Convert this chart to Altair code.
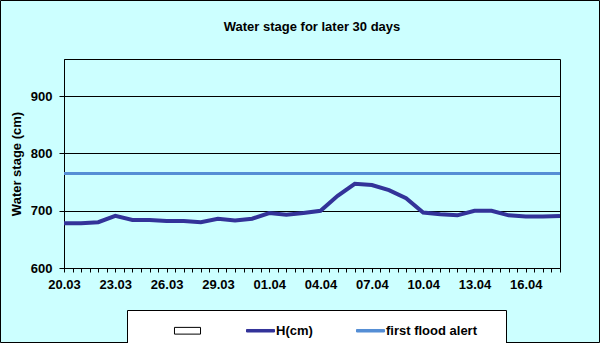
import altair as alt
import pandas as pd

# ---- data ----
dates = [
    "2024-03-20", "2024-03-21", "2024-03-22", "2024-03-23", "2024-03-24",
    "2024-03-25", "2024-03-26", "2024-03-27", "2024-03-28", "2024-03-29",
    "2024-03-30", "2024-03-31", "2024-04-01", "2024-04-02", "2024-04-03",
    "2024-04-04", "2024-04-05", "2024-04-06", "2024-04-07", "2024-04-08",
    "2024-04-09", "2024-04-10", "2024-04-11", "2024-04-12", "2024-04-13",
    "2024-04-14", "2024-04-15", "2024-04-16", "2024-04-17", "2024-04-18",
]
levels = [678, 678, 680, 691, 684, 684, 682, 682, 680, 686,
          683, 686, 696, 693, 696, 700, 726, 747, 745, 736,
          722, 697, 694, 692, 700, 700, 692, 690, 690, 691]
alert_level = [765]
series_names = ["", "H(cm)", "first flood alert"]
y_ticks = [600, 700, 800, 900]

FONT = "Liberation Sans"
LINE_COLOR = "#333399"
ALERT_COLOR = "#558ED5"

df = pd.DataFrame({"date": dates, "H": levels})
alert_df = pd.DataFrame({"alert": alert_level})
legend_df = pd.DataFrame({"series": series_names})

# half-day tick marks, labels every 3 days
tick_times = pd.date_range(dates[0], dates[-1], freq="12h")
tick_values = [int(t.timestamp() * 1000) for t in tick_times]
t0 = tick_values[0]
label_expr = (
    f"((datum.value - {t0}) % 259200000) == 0 ? utcFormat(datum.value, '%d.%m') : ''"
)

x_scale = alt.Scale(type="utc", domain=[dates[0], dates[-1]], nice=False)
y_scale = alt.Scale(domain=[600, 965], nice=False, zero=False)

x_axis = alt.Axis(
    values=tick_values, labelExpr=label_expr, labelOverlap=False, labelFlush=False,
    title=None, grid=False, tickSize=4, tickColor="black", domainColor="black",
    labelFont=FONT, labelFontSize=13, labelFontWeight="bold", labelColor="black",
    labelPadding=6, labelAngle=0,
)
y_axis = alt.Axis(
    values=y_ticks, title="Water stage (cm)", grid=True, gridColor="black",
    gridWidth=1, gridOpacity=1, tickSize=5, tickColor="black", domainColor="black",
    labelFont=FONT, labelFontSize=13, labelFontWeight="bold", labelColor="black",
    labelPadding=7, titleFont=FONT, titleFontSize=13, titleFontWeight="bold",
    titleColor="black", titlePadding=7,
)

frame = alt.Chart(pd.DataFrame({"k": [0]})).mark_rect(
    fill="transparent", stroke="black", strokeWidth=1
).encode(
    x=alt.value(-63.5), x2=alt.value(535.5), y=alt.value(-58.5), y2=alt.value(283.5)
)

line = alt.Chart(df).mark_line(color=LINE_COLOR, strokeWidth=4).encode(
    x=alt.X("date:T", scale=x_scale, axis=x_axis),
    y=alt.Y("H:Q", scale=y_scale, axis=y_axis),
)

alert = alt.Chart(alert_df).mark_rule(color=ALERT_COLOR, strokeWidth=3).encode(
    y=alt.Y("alert:Q", scale=y_scale)
)

rect_path = "M-0.93,-0.24H0.93V0.24H-0.93Z"
bar_path = "M-1,-0.09H1V0.09H-1Z"
legend = alt.Legend(
    title="___", titleOrient="right", titlePadding=2,
    titleFont=FONT, titleFontSize=12, titleColor="white",
    orient="none", legendX=63, legendY=251, direction="horizontal",
    columns=3, fillColor="white", strokeColor="black", padding=6,
    symbolOffset=40, columnPadding=3, labelOffset=1, symbolSize=784,
    symbolStrokeWidth=1, symbolOpacity=1,
    labelFont=FONT, labelFontSize=13, labelFontWeight="bold", labelColor="black",
)
legend_layer = alt.Chart(legend_df).mark_point(filled=True).transform_filter(
    "datum.series == '__none__'"
).encode(
    fill=alt.Fill("series:N", scale=alt.Scale(domain=series_names,
                                              range=["white", LINE_COLOR, ALERT_COLOR]),
                  legend=legend),
    stroke=alt.Stroke("series:N", scale=alt.Scale(domain=series_names,
                                                  range=["black", LINE_COLOR, ALERT_COLOR]),
                      legend=legend),
    shape=alt.Shape("series:N", scale=alt.Scale(domain=series_names,
                                                range=[rect_path, bar_path, bar_path]),
                    legend=legend),
)

chart = alt.layer(frame, line, alert, legend_layer).properties(
    width=496, height=209,
    title=alt.TitleParams(
        "Water stage for later 30 days", font=FONT, fontSize=13, fontWeight="bold",
        color="black", anchor="middle", offset=-34, frame="group",
    ),
    autosize=alt.AutoSizeParams(type="none"),
    padding={"left": 64, "top": 59, "right": 40, "bottom": 75},
    background="#CCFFFF",
).configure_view(stroke="black", strokeWidth=1, fill="white")

chart.save("out.html", embed_options={"renderer": "svg", "actions": False})
